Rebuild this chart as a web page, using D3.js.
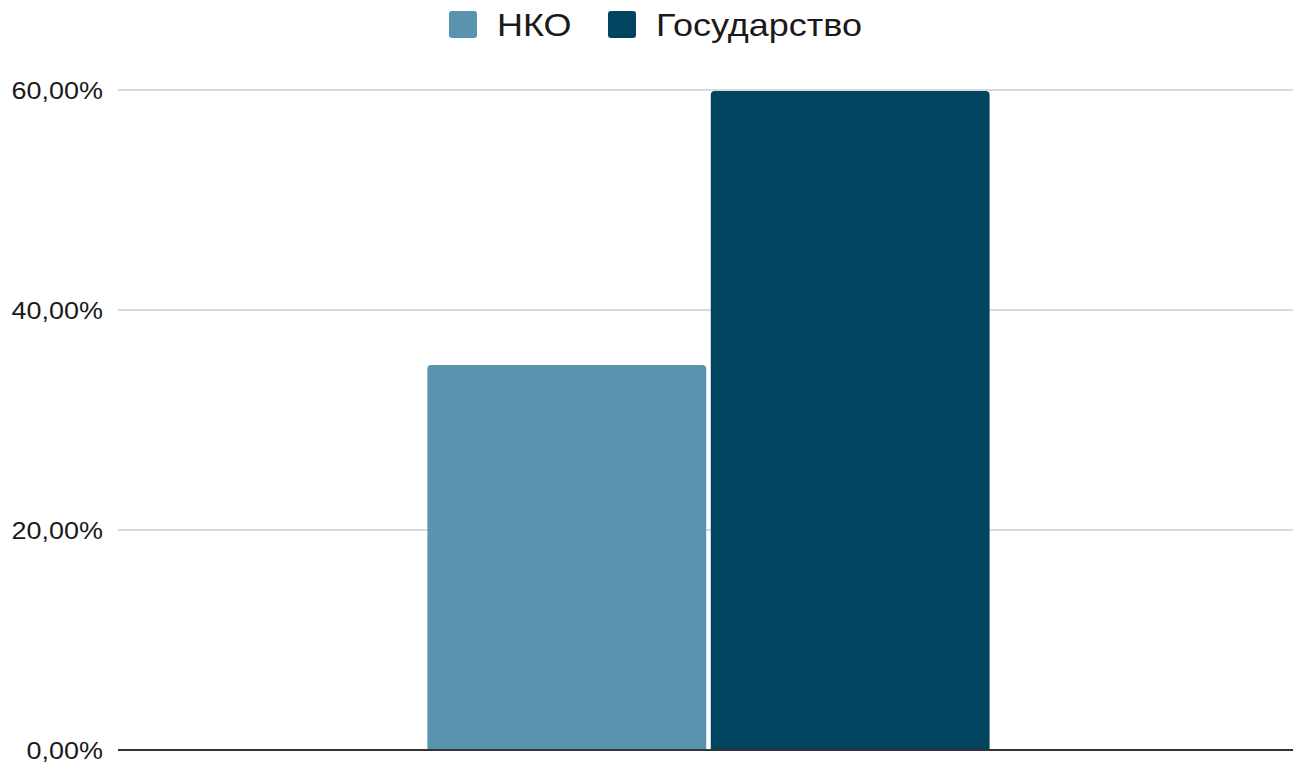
<!DOCTYPE html>
<html>
<head>
<meta charset="utf-8">
<script src="https://cdn.jsdelivr.net/npm/d3@7"></script>
<style>
  html, body { margin: 0; padding: 0; background: #fff; }
  svg { display: block; font-family: "Liberation Sans", Arial, sans-serif; }
</style>
</head>
<body>
<svg id="chart"></svg>
<script>
// data
var categories = [''];
var seriesNames = ['НКО', 'Государство'];
var seriesColors = ['#5a93b0', '#01445f'];
var values = [[35.0, 59.9]];
var yTicks = [0, 20, 40, 60];

var width = 1293, height = 764;
var margin = { top: 90, right: 0, bottom: 14, left: 118 };

var svg = d3.select('#chart')
  .attr('width', width)
  .attr('height', height);

var y = d3.scaleLinear()
  .domain([0, 60])
  .range([height - margin.bottom, margin.top]);

// bar group is a bit right of the plot centre
var x0 = d3.scaleBand()
  .domain(categories)
  .range([margin.left + 3, width - margin.right + 3])
  .paddingInner(0)
  .paddingOuter(0.545);

var x1 = d3.scaleBand()
  .domain(seriesNames)
  .range([0, x0.bandwidth()])
  .paddingInner(0.016);

// gridlines
svg.append('g')
  .selectAll('line')
  .data(yTicks.filter(function(d) { return d > 0; }))
  .enter()
  .append('line')
  .attr('x1', margin.left)
  .attr('x2', width - margin.right)
  .attr('y1', function(d) { return y(d); })
  .attr('y2', function(d) { return y(d); })
  .attr('stroke', '#cccccc')
  .attr('stroke-width', 1.5);

// stretch text horizontally a bit (reference glyphs are wide)
function stretch(sel, x, y, k) {
  sel.attr('transform', 'translate(' + x + ',' + y + ') scale(' + k + ',1)');
}

// y labels
svg.append('g')
  .selectAll('text')
  .data(yTicks)
  .enter()
  .append('text')
  .attr('text-anchor', 'end')
  .attr('dy', '0.36em')
  .attr('font-size', 24.5)
  .attr('fill', '#1a1a1a')
  .each(function(d) { stretch(d3.select(this), 103, y(d), 1.1); })
  .text(function(d) { return d.toFixed(2).replace('.', ',') + '%'; });

// bars with rounded top corners
function barPath(x, yTop, w, yBottom, r) {
  return 'M' + x + ',' + yBottom +
    'V' + (yTop + r) +
    'Q' + x + ',' + yTop + ' ' + (x + r) + ',' + yTop +
    'H' + (x + w - r) +
    'Q' + (x + w) + ',' + yTop + ' ' + (x + w) + ',' + (yTop + r) +
    'V' + yBottom + 'Z';
}

var groups = svg.append('g')
  .selectAll('g')
  .data(values)
  .enter()
  .append('g')
  .attr('transform', function(d, i) {
    return 'translate(' + x0(categories[i]) + ',0)';
  });

groups.selectAll('path')
  .data(function(d) { return d; })
  .enter()
  .append('path')
  .attr('fill', function(d, i) { return seriesColors[i]; })
  .attr('d', function(d, i) {
    return barPath(x1(seriesNames[i]), y(d), x1.bandwidth(), y(0), 4);
  });

// baseline
svg.append('line')
  .attr('x1', margin.left)
  .attr('x2', width - margin.right)
  .attr('y1', y(0))
  .attr('y2', y(0))
  .attr('stroke', '#333333')
  .attr('stroke-width', 2);

// legend
var legend = svg.append('g');
var legendX = [449, 608];
seriesNames.forEach(function(name, i) {
  legend.append('rect')
    .attr('x', legendX[i])
    .attr('y', 11)
    .attr('width', 28)
    .attr('height', 27)
    .attr('rx', 3)
    .attr('fill', seriesColors[i]);
  legend.append('text')
    .attr('dy', '0.36em')
    .attr('font-size', 30.5)
    .attr('fill', '#1a1a1a')
    .call(stretch, legendX[i] + 48, 25, 1.18)
    .text(name);
});
</script>
</body>
</html>
